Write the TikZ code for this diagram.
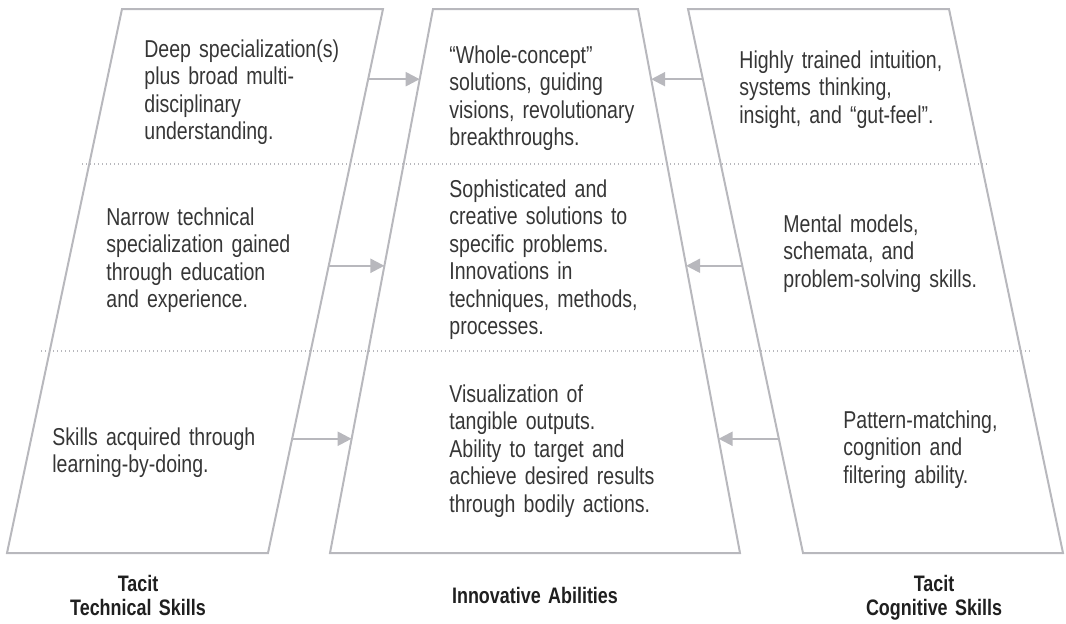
\documentclass[tikz,border=0pt]{standalone}
\usepackage{fontspec}
\setmainfont[FakeStretch=0.80,WordSpace=0.8]{Liberation Sans}
\usepackage{tikz}
\usetikzlibrary{calc,arrows.meta}
\definecolor{edgegray}{HTML}{B8B8BD}
\definecolor{textgray}{HTML}{363636}

\begin{document}
\begin{tikzpicture}[
	x=0.5pt, y=-0.5pt,
	panel/.style={draw=edgegray, line width=1pt},
	divider/.style={draw=edgegray, line width=0.6pt, dash pattern=on 0.6pt off 1.4pt},
	link/.style={draw=edgegray, line width=1.1pt, -{Triangle[length=7pt,width=7pt]}},
	every node/.style={inner sep=0pt, text=textgray},
	body/.style={
		anchor=base west,
		text width=130pt,
		align=left,
		font=\fontsize{12.2}{13.75}\selectfont
	},
	caption/.style={
		anchor=base,
		text width=120pt,
		align=center,
		font=\fontsize{11.2}{12}\bfseries\selectfont,
		text=black!88
	}
]
\useasboundingbox (0,0) rectangle (1066,623);

% corners of the three panels
\coordinate (ltl) at (122,9); \coordinate (ltr) at (383,9);
\coordinate (lbl) at (7,553); \coordinate (lbr) at (268,553);
\coordinate (mtl) at (433,9); \coordinate (mtr) at (638,9);
\coordinate (mbl) at (330,553); \coordinate (mbr) at (740,553);
\coordinate (rtl) at (688,9); \coordinate (rtr) at (949,9);
\coordinate (rbl) at (803,553); \coordinate (rbr) at (1063,553);

\draw[panel] (ltl) -- (ltr) -- (lbr) -- (lbl) -- cycle;
\draw[panel] (mtl) -- (mtr) -- (mbr) -- (mbl) -- cycle;
\draw[panel] (rtl) -- (rtr) -- (rbr) -- (rbl) -- cycle;

\draw[divider] (82,164) -- (989,164);
\draw[divider] (41,351) -- (1031,351);

% arrow ends on the panel edges
\coordinate (techA) at ($(ltr)!0.129!(lbr)$);
\coordinate (techB) at ($(ltr)!0.472!(lbr)$);
\coordinate (techC) at ($(ltr)!0.790!(lbr)$);
\coordinate (innovLA) at ($(mtl)!0.129!(mbl)$);
\coordinate (innovLB) at ($(mtl)!0.472!(mbl)$);
\coordinate (innovLC) at ($(mtl)!0.790!(mbl)$);
\coordinate (innovRA) at ($(mtr)!0.129!(mbr)$);
\coordinate (innovRB) at ($(mtr)!0.472!(mbr)$);
\coordinate (innovRC) at ($(mtr)!0.790!(mbr)$);
\coordinate (cogA) at ($(rtl)!0.129!(rbl)$);
\coordinate (cogB) at ($(rtl)!0.472!(rbl)$);
\coordinate (cogC) at ($(rtl)!0.790!(rbl)$);

\draw[link] (techA) -- (innovLA);
\draw[link] (techB) -- (innovLB);
\draw[link] (techC) -- (innovLC);
\draw[link] (cogA) -- (innovRA);
\draw[link] (cogB) -- (innovRB);
\draw[link] (cogC) -- (innovRC);

\node[body] (tech1) at (144,57) {Deep specialization(s)\\plus broad multi-\\disciplinary\\understanding.};
\node[body] (tech2) at (106,225) {Narrow technical\\specialization gained\\through education\\and experience.};
\node[body] (tech3) at (52,445) {Skills acquired through\\learning-by-doing.};

\node[body] (innov1) at (449,63) {“Whole-concept”\\solutions, guiding\\visions, revolutionary\\breakthroughs.};
\node[body] (innov2) at (449,197) {Sophisticated and\\creative solutions to\\specific problems.\\Innovations in\\techniques, methods,\\processes.};
\node[body] (innov3) at (449,402) {Visualization of\\tangible outputs.\\Ability to target and\\achieve desired results\\through bodily actions.};

\node[body] (cog1) at (739,68) {Highly trained intuition,\\systems thinking,\\insight, and “gut-feel”.};
\node[body] (cog2) at (783,232) {Mental models,\\schemata, and\\problem-solving skills.};
\node[body] (cog3) at (843,428) {Pattern-matching,\\cognition and\\filtering ability.};

\node[caption] (techcap) at (138,591) {Tacit\\Technical Skills};
\node[caption] (innovcap) at (535,603) {Innovative Abilities};
\node[caption] (cogcap) at (934,591) {Tacit\\Cognitive Skills};
\end{tikzpicture}
\end{document}
